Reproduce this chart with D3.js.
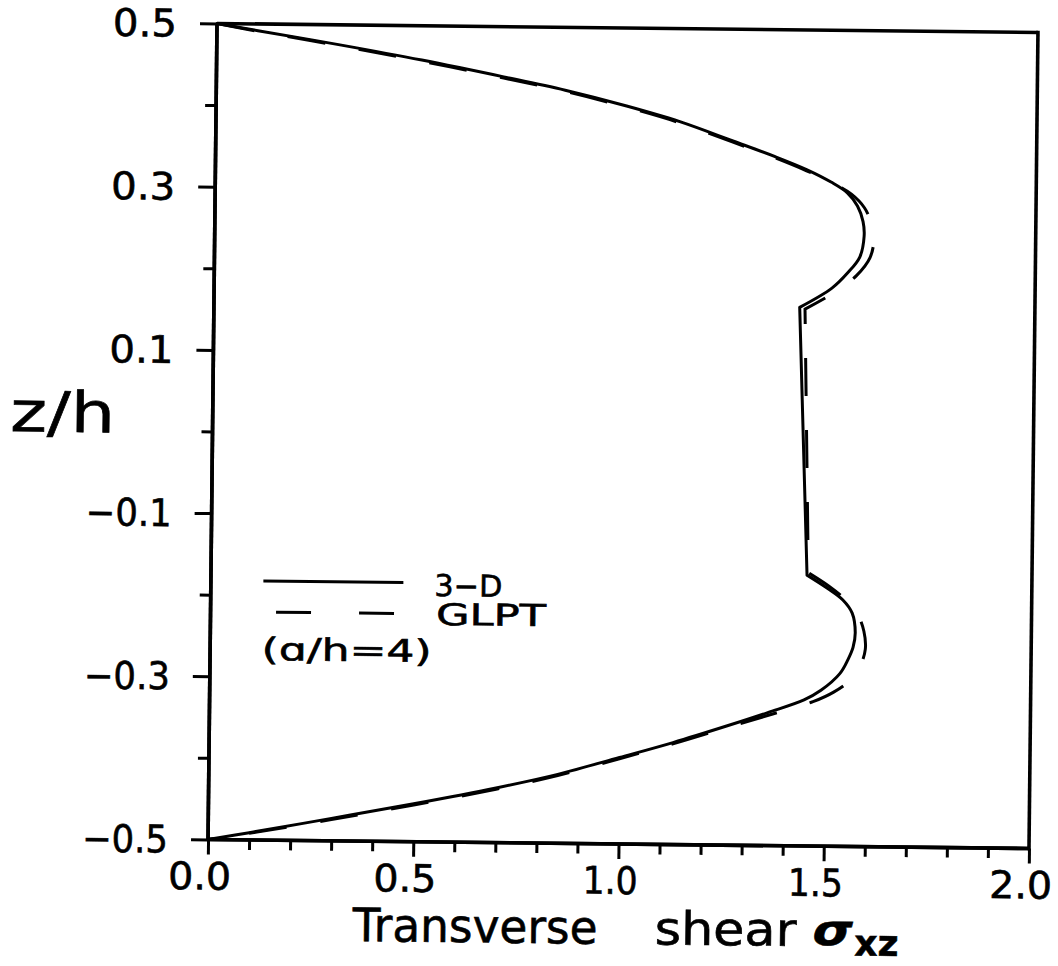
<!DOCTYPE html>
<html>
<head>
<meta charset="utf-8">
<script src="https://cdn.jsdelivr.net/npm/d3@7"></script>
<style>
  html, body { margin: 0; padding: 0; background: #fff; }
  svg { display: block; }
  text { font-family: "DejaVu Sans", "Liberation Sans", sans-serif; fill: #000; stroke: #000; stroke-width: 0.6px; }
</style>
</head>
<body>
<svg id="chart" width="1058" height="966"></svg>
<script>
// Through-thickness profile of transverse shear stress (a/h = 4)
// Outer (upper) layer, from the top face down to the interface
const zUpper3D     = [0.500, 0.4918, 0.4755, 0.4580, 0.4385, 0.4230, 0.4045, 0.3860, 0.3630, 0.3450, 0.3290, 0.3140, 0.3010, 0.2850, 0.2660, 0.2480, 0.2225, 0.2030, 0.1840, 0.1600];
const shearUpper3D = [0.000, 0.100, 0.300, 0.500, 0.700, 0.850, 1.000, 1.130, 1.260, 1.360, 1.440, 1.500, 1.540, 1.565, 1.579, 1.582, 1.572, 1.543, 1.505, 1.427];
// Lower layer, from the interface down to the bottom face
const zLower3D     = [-0.168, -0.1835, -0.198, -0.214, -0.238, -0.256, -0.271, -0.288, -0.309, -0.321, -0.337, -0.354, -0.375, -0.394, -0.4155, -0.433, -0.4535, -0.4725, -0.4912, -0.500];
const shearLower3D = [1.452, 1.501, 1.540, 1.563, 1.571, 1.566, 1.554, 1.535, 1.489, 1.448, 1.360, 1.260, 1.130, 1.000, 0.850, 0.700, 0.500, 0.300, 0.100, 0.000];

const zUpperGLPT     = [0.500, 0.4910, 0.4743, 0.4565, 0.4370, 0.4215, 0.4030, 0.3845, 0.3615, 0.3435, 0.3275, 0.3125, 0.2995, 0.2830, 0.2630, 0.2450, 0.2220, 0.2000, 0.1800, 0.1580];
const shearUpperGLPT = [0.000, 0.100, 0.300, 0.500, 0.700, 0.850, 1.000, 1.130, 1.260, 1.360, 1.440, 1.505, 1.550, 1.582, 1.600, 1.606, 1.597, 1.565, 1.515, 1.440];
const zLowerGLPT     = [-0.165, -0.181, -0.197, -0.214, -0.236, -0.258, -0.277, -0.296, -0.311, -0.323, -0.339, -0.356, -0.3765, -0.3955, -0.417, -0.4345, -0.455, -0.474, -0.4918, -0.500];
const shearLowerGLPT = [1.455, 1.505, 1.545, 1.575, 1.592, 1.596, 1.585, 1.560, 1.520, 1.470, 1.370, 1.260, 1.130, 1.000, 0.850, 0.700, 0.500, 0.300, 0.100, 0.000];

const xTickLabels = ["0.0", "0.5", "1.0", "1.5", "2.0"];
const yTickLabels = ["0.5", "0.3", "0.1", "\u22120.1", "\u22120.3", "\u22120.5"];
const xTickValues = [0, 0.5, 1.0, 1.5, 2.0];
const yTickValues = [0.5, 0.3, 0.1, -0.1, -0.3, -0.5];
const xMinorTicks = [0.1, 0.2, 0.3, 0.4, 0.6, 0.7, 0.8, 0.9, 1.1, 1.2, 1.3, 1.4, 1.6, 1.7, 1.8, 1.9];
const yMinorTicks = [0.4, 0.2, 0.0, -0.2, -0.4];

const svg = d3.select("#chart");
// The plotter sheet sits a little askew on the page
const g = svg.append("g").attr("transform", "rotate(0.63, 623, 436)");

const x = d3.scaleLinear().domain([0, 2]).range([212.5, 1033.5]);
const y = d3.scaleLinear().domain([-0.5, 0.5]).range([844, 28]);

const ink = "#000";
const axisWidth = 3.6;

// Text helper: stretch glyphs to the wide plotter lettering
function label(parent, str, px, py, size, width, anchor, extra) {
  const t = parent.append("text")
    .attr("x", px).attr("y", py)
    .attr("font-size", size)
    .attr("text-anchor", anchor || "start")
    .text(str);
  if (width) t.attr("textLength", width).attr("lengthAdjust", "spacingAndGlyphs");
  if (extra) extra(t);
  return t;
}

// Frame: top and right edges
g.append("line").attr("x1", x(0)).attr("x2", x(2)).attr("y1", y(0.5)).attr("y2", y(0.5))
  .attr("stroke", ink).attr("stroke-width", axisWidth);
g.append("line").attr("x1", x(2)).attr("x2", x(2)).attr("y1", y(0.5)).attr("y2", y(-0.5))
  .attr("stroke", ink).attr("stroke-width", axisWidth).attr("stroke-linecap", "square");

// Bottom axis
const xAxisMajor = d3.axisBottom(x).tickValues(xTickValues).tickSize(15).tickFormat("");
const xAxisMinor = d3.axisBottom(x).tickValues(xMinorTicks).tickSize(10).tickFormat("");
[xAxisMinor, xAxisMajor].forEach(ax => {
  const a = g.append("g").attr("transform", `translate(0,${y(-0.5)})`).call(ax);
  a.select(".domain").attr("stroke", ink).attr("stroke-width", axisWidth).attr("d", `M${x(0)},0H${x(2)}`);
  a.selectAll(".tick line").attr("stroke", ink).attr("stroke-width", 3);
});

// Left axis
const yAxisMajor = d3.axisLeft(y).tickValues(yTickValues).tickSize(17).tickFormat("");
const yAxisMinor = d3.axisLeft(y).tickValues(yMinorTicks).tickSize(11).tickFormat("");
[yAxisMinor, yAxisMajor].forEach(ax => {
  const a = g.append("g").attr("transform", `translate(${x(0)},0)`).call(ax);
  a.select(".domain").attr("stroke", ink).attr("stroke-width", axisWidth).attr("d", `M0,${y(0.5)}V${y(-0.5)}`);
  a.selectAll(".tick line").attr("stroke", ink).attr("stroke-width", 3);
});

// Tick labels
xTickLabels.forEach((s, i) => {
  const w = s.startsWith("1") ? 55 : 63;
  label(g, s, x(xTickValues[i]) - 8, 894, 38, w, "middle");
});
yTickLabels.forEach((s, i) => {
  const w = s.length > 3 ? 86 : 64;
  label(g, s, x(0) - 40, y(yTickValues[i]) + 13.5, 38, w, "end");
});

// Axis titles
label(g, "z/h", 10, 438, 56, 105, "start");
label(g, "Transverse", 358, 944, 46, 245, "start");
label(g, "shear", 660, 944, 46, 142, "start");
label(g, "\u03c3", 818, 943, 43, 40, "start", t => t.attr("font-weight", "bold").attr("font-style", "italic"));
label(g, "xz", 860, 953, 36, 44, "start", t => t.attr("font-weight", "bold"));

// Curves: smooth within each layer, straight through the core
const smooth = d3.line()
  .x(d => x(d[0]))
  .y(d => y(d[1]))
  .curve(d3.curveCatmullRom.alpha(0.5));

function profilePath(shUp, zUp, shLo, zLo) {
  const up = shUp.map((v, i) => [v, zUp[i]]);
  const lo = shLo.map((v, i) => [v, zLo[i]]);
  return smooth(up) + smooth(lo).replace(/^M/, "L");
}

g.append("path")
  .attr("d", profilePath(shearUpper3D, zUpper3D, shearLower3D, zLower3D))
  .attr("fill", "none").attr("stroke", ink).attr("stroke-width", 3)
  .attr("stroke-linejoin", "round").attr("stroke-linecap", "round");

g.append("path")
  .attr("d", profilePath(shearUpperGLPT, zUpperGLPT, shearLowerGLPT, zLowerGLPT))
  .attr("fill", "none").attr("stroke", ink).attr("stroke-width", 3)
  .attr("stroke-dasharray", "38,34").attr("stroke-linecap", "butt");

// Legend
const legend = g.append("g");
legend.append("line").attr("x1", 265).attr("x2", 405).attr("y1", 585).attr("y2", 585)
  .attr("stroke", ink).attr("stroke-width", 3);
label(legend, "3\u2212D", 436, 598, 30, 68, "start");
legend.append("line").attr("x1", 278).attr("x2", 398).attr("y1", 616).attr("y2", 616)
  .attr("stroke", ink).attr("stroke-width", 3).attr("stroke-dasharray", "35,48");
label(legend, "GLPT", 438, 627, 30, 110, "start");
label(legend, "(\u0251/h=4)", 264, 664, 31, 170, "start");
</script>
</body>
</html>
